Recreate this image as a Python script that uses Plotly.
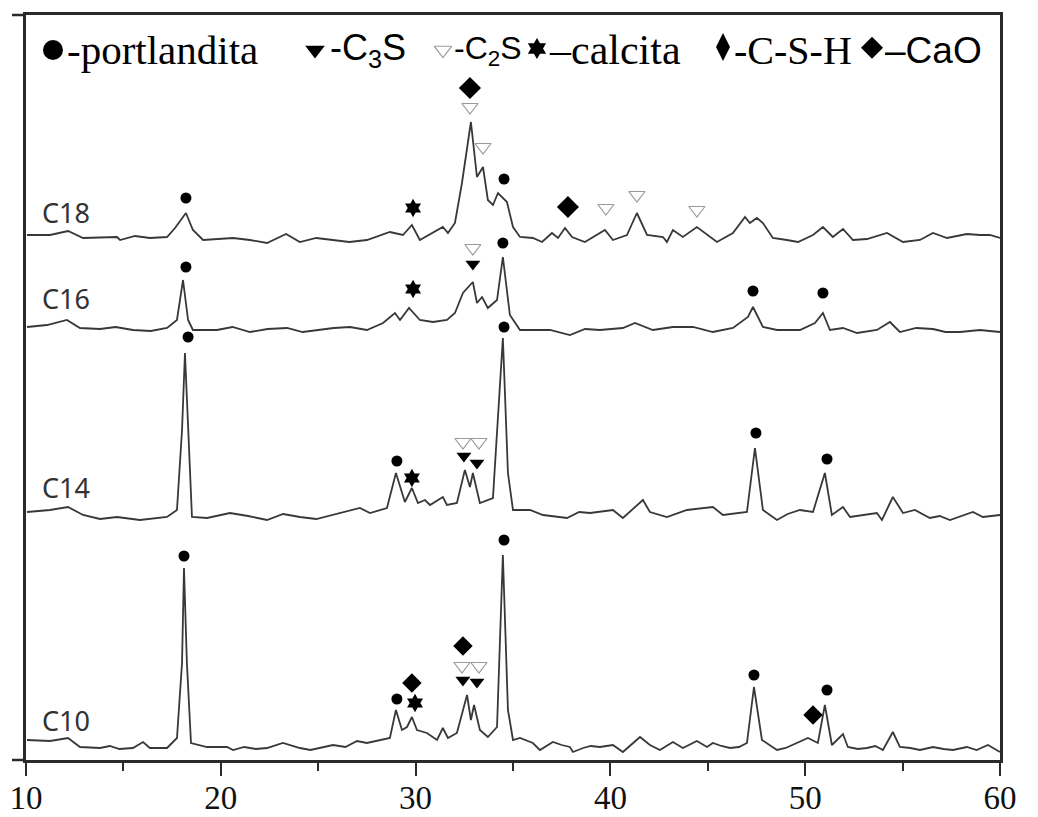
import plotly.graph_objects as go

# ---------------- data (2θ in degrees, stacked intensity in a.u.) ----------------
c10_x = [10.05, 11.23, 12.16, 12.77, 13.80, 14.30, 14.80, 15.49, 16.01, 16.36, 17.24, 17.75, 18.01, 18.11, 18.26, 18.47, 19.29, 20.32, 20.63, 21.20, 21.80, 22.37, 23.19, 24.06, 24.60, 25.09, 25.76, 26.40, 26.99, 27.50, 28.02, 28.68, 28.99, 29.30, 29.56, 29.81, 30.07, 30.58, 31.10, 31.40, 31.66, 32.12, 32.64, 32.84, 33.00, 33.30, 33.71, 34.18, 34.48, 34.74, 35.00, 35.36, 36.02, 36.38, 37.05, 37.50, 37.92, 38.08, 38.60, 39.00, 39.46, 40.13, 40.64, 41.52, 42.03, 42.54, 43.21, 43.72, 44.44, 44.96, 45.26, 45.70, 46.14, 46.60, 47.01, 47.37, 47.78, 48.55, 49.00, 49.37, 50.14, 50.65, 51.01, 51.37, 51.94, 52.19, 52.70, 53.17, 53.60, 53.99, 54.50, 54.86, 55.40, 55.89, 56.56, 57.10, 57.58, 58.30, 58.80, 59.38, 60.00]
c10_y = [20, 19, 22, 13, 12, 14, 11, 12, 18, 12, 12, 22, 97, 192, 97, 17, 13, 13, 10, 13, 11, 12, 17, 12, 10, 12, 15, 13, 19, 17, 19, 22, 50, 30, 33, 43, 30, 27, 20, 32, 22, 27, 65, 40, 55, 30, 23, 33, 205, 50, 20, 22, 17, 10, 18, 15, 13, 8, 12, 14, 13, 15, 8, 23, 15, 10, 18, 12, 19, 13, 17, 14, 12, 13, 17, 73, 20, 10, 12, 15, 22, 17, 55, 15, 26, 13, 11, 12, 14, 10, 28, 13, 12, 10, 13, 11, 10, 13, 10, 15, 8]

c14_x = [10.05, 11.23, 12.16, 12.93, 13.80, 14.67, 15.85, 17.24, 17.75, 18.01, 18.16, 18.32, 18.52, 19.29, 20.47, 21.40, 22.37, 23.20, 24.06, 24.90, 25.76, 26.40, 27.14, 27.66, 28.53, 28.99, 29.45, 29.81, 30.12, 30.48, 30.74, 31.40, 31.61, 32.12, 32.53, 32.79, 32.94, 33.30, 33.97, 34.48, 34.74, 35.00, 35.87, 36.54, 37.77, 38.40, 38.95, 40.13, 40.64, 41.67, 42.03, 42.90, 43.93, 45.26, 45.78, 47.01, 47.42, 47.83, 48.55, 49.10, 49.73, 50.40, 51.01, 51.37, 51.94, 52.30, 53.68, 53.94, 54.50, 55.02, 55.63, 56.40, 56.90, 57.43, 58.61, 59.12, 60.00]
c14_y = [248, 250, 253, 245, 241, 243, 240, 243, 250, 330, 407, 330, 243, 242, 247, 244, 240, 246, 243, 241, 245, 248, 252, 247, 252, 287, 258, 272, 257, 260, 255, 263, 255, 257, 290, 273, 287, 257, 262, 422, 287, 250, 250, 245, 242, 248, 247, 250, 242, 260, 248, 243, 250, 253, 245, 248, 312, 250, 240, 246, 250, 248, 287, 245, 253, 243, 247, 240, 263, 247, 250, 242, 244, 240, 248, 243, 245]

c16_x = [10.05, 11.08, 12.10, 12.77, 13.80, 14.60, 15.49, 16.40, 17.24, 17.75, 18.06, 18.32, 18.57, 19.80, 20.60, 21.50, 22.40, 23.40, 24.20, 24.94, 25.80, 26.63, 27.50, 28.33, 28.94, 29.20, 29.66, 30.22, 30.89, 31.61, 32.02, 32.43, 32.94, 33.15, 33.41, 33.71, 34.18, 34.48, 34.84, 35.36, 36.90, 37.92, 38.70, 39.46, 40.64, 41.26, 42.18, 43.21, 44.24, 45.26, 46.29, 47.06, 47.32, 47.83, 48.55, 49.73, 50.50, 50.91, 51.27, 51.94, 52.66, 53.68, 54.35, 54.86, 55.70, 56.56, 57.20, 57.94, 58.97, 60.00]
c16_y = [433, 435, 440, 432, 431, 433, 430, 429, 432, 440, 480, 440, 430, 430, 433, 428, 431, 432, 428, 430, 432, 433, 430, 437, 447, 440, 452, 440, 438, 440, 447, 467, 478, 457, 463, 452, 460, 503, 445, 430, 430, 425, 431, 430, 432, 437, 430, 433, 433, 428, 432, 443, 453, 433, 430, 430, 437, 447, 430, 432, 427, 430, 438, 428, 432, 431, 428, 428, 430, 428]

c18_x = [10.05, 11.23, 12.16, 12.93, 14.67, 14.83, 15.60, 16.36, 17.24, 17.65, 18.21, 18.57, 19.09, 20.63, 21.50, 22.37, 23.35, 24.06, 24.90, 25.76, 26.60, 27.50, 28.68, 29.35, 29.81, 30.22, 30.89, 31.40, 31.66, 32.02, 32.38, 32.84, 33.15, 33.46, 33.71, 33.97, 34.23, 34.69, 35.00, 35.36, 36.02, 36.49, 37.00, 37.31, 37.67, 38.03, 38.69, 39.72, 40.13, 40.85, 41.36, 41.88, 42.70, 42.90, 43.21, 43.72, 44.44, 45.47, 46.29, 46.91, 47.16, 47.52, 47.83, 48.34, 49.06, 49.63, 50.40, 50.91, 51.42, 51.94, 52.45, 53.17, 54.20, 55.02, 55.89, 56.56, 57.28, 58.30, 58.97, 59.48, 60.00]
c18_y = [525, 525, 529, 522, 523, 520, 524, 522, 523, 532, 547, 530, 520, 522, 520, 517, 526, 518, 522, 520, 518, 520, 528, 525, 535, 520, 527, 533, 527, 537, 577, 638, 583, 593, 560, 555, 567, 558, 533, 523, 522, 518, 527, 522, 532, 523, 518, 530, 520, 525, 547, 525, 523, 518, 530, 523, 533, 518, 527, 543, 537, 542, 537, 522, 520, 518, 525, 533, 523, 531, 520, 521, 527, 518, 520, 527, 522, 526, 525, 525, 522]

samples = ["C10", "C14", "C16", "C18"]
sample_label_y = [40, 273, 462, 548]   # vertical position of the sample names (a.u.)

# phase identification marks (2θ, a.u.)
portl_x = [18.21, 34.54, 18.21, 34.48, 47.32, 50.91, 18.32, 29.04, 34.54, 47.47, 51.12, 18.11, 29.04, 34.54, 47.37, 51.12]
portl_y = [562, 581, 493, 517, 469, 467, 423, 299, 433, 327, 301, 204, 61, 220, 85, 70]
c3s_x = [32.94, 32.48, 33.15, 32.43, 33.15]
c3s_y = [496, 304, 297, 80, 78]
c2s_x = [32.79, 33.46, 39.77, 41.36, 44.44, 32.94, 32.43, 33.25, 32.38, 33.25]
c2s_y = [653, 613, 552, 565, 550, 512, 318, 318, 94, 94]
calc_x = [29.87, 29.87, 29.81, 29.97]
calc_y = [552, 471, 282, 57]
csh_x = [29.81, 32.43, 50.40]
csh_y = [77, 114, 45]
cao_x = [32.79, 37.82]
cao_y = [672, 553]

x_ticks = [10, 20, 30, 40, 50, 60]

# legend row: phase names
legend_names = ["-portlandita", "-C<sub>3</sub>S", "-C<sub>2</sub>S", "–calcita", "-C-S-H", "–CaO"]

series = [(c10_x, c10_y), (c14_x, c14_y), (c16_x, c16_y), (c18_x, c18_y)]
for xs, ys in series:
    assert len(xs) == len(ys), (len(xs), len(ys))

# ---------------- figure ----------------
fig = go.Figure()
line_style = dict(color="#383838", width=1.8)
for xs, ys in series:
    fig.add_trace(go.Scatter(x=xs, y=ys, mode="lines", line=line_style,
                             showlegend=False, hoverinfo="skip"))

phase_styles = [  # symbol, size in plot, size in legend row, colour, outline width
    ("circle", 11, 20, "black", 0),
    ("triangle-down", 13, 17, "black", 0),
    ("triangle-down-open", 14, 15, "#9a9a9a", 1.2),
    ("hexagram", 14, 16, "black", 0),
    ("diamond", 15, 20, "black", 0),
    ("diamond", 17, 17, "black", 0),
]
phase_marks = [(portl_x, portl_y), (c3s_x, c3s_y), (c2s_x, c2s_y),
               (calc_x, calc_y), (csh_x, csh_y), (cao_x, cao_y)]

for (xs, ys), (sym, size, _, col, lw) in zip(phase_marks, phase_styles):
    fig.add_trace(go.Scatter(
        x=xs, y=ys, mode="markers", showlegend=False, hoverinfo="skip",
        marker=dict(symbol=sym, size=size, color=col, line=dict(color=col, width=lw))))

# legend-row glyphs on a hidden overlay axis in plot-fraction units
glyph_x = [0.0277, 0.2967, 0.4281, 0.5246, 0.7156, 0.8686]
glyph_y = [0.953, 0.953, 0.953, 0.955, 0.957, 0.956]
for gx, gy, (sym, _, lsize, col, lw) in zip(glyph_x, glyph_y, phase_styles):
    if sym == "diamond" and lsize == 20:
        sym = "diamond-tall"
    fig.add_trace(go.Scatter(
        x=[gx], y=[gy], xaxis="x2", yaxis="y2", mode="markers", showlegend=False,
        hoverinfo="skip",
        marker=dict(symbol=sym, size=lsize, color=col, line=dict(color=col, width=lw))))

text_x = [0.0400, 0.3100, 0.4370, 0.5350, 0.7250, 0.8800]
text_font = ["Liberation Serif", "Liberation Sans", "Liberation Sans",
             "Liberation Serif", "Liberation Serif", "Liberation Sans"]
text_size = [41, 36, 32, 42, 40, 37]
for tx, name, fam, sz in zip(text_x, legend_names, text_font, text_size):
    fig.add_annotation(x=tx, y=0.953, xref="paper", yref="paper", text=name,
                       showarrow=False, xanchor="left", yanchor="middle",
                       font=dict(family=fam, size=sz, color="black"))

# sample labels
for name, yv in zip(samples, sample_label_y):
    fig.add_annotation(x=10.7, y=yv, xref="x", yref="y", text=name, showarrow=False,
                       xanchor="left", yanchor="middle",
                       font=dict(family="Noto Sans", size=27, color="#333"))

# small overhang of the horizontal frame lines to the left
for yp in (0, 1):
    fig.add_shape(type="line", xref="paper", yref="paper", x0=-0.0144, x1=0,
                  y0=yp, y1=yp, line=dict(color="#2a2a2a", width=2.5))

SERIF = "Times New Roman, Liberation Serif, serif"
fig.update_layout(
    width=1038, height=817, autosize=False,
    margin=dict(l=26, r=38, t=15, b=57),
    paper_bgcolor="white", plot_bgcolor="white",
    font=dict(family=SERIF, color="#111"),
    xaxis=dict(range=[10, 60], tickvals=x_ticks, ticks="outside", ticklen=13,
               tickwidth=2, tickcolor="#2a2a2a", showline=True, linecolor="#2a2a2a",
               linewidth=2.5, mirror=True, showgrid=False, zeroline=False,
               automargin=False, ticklabelstandoff=-6,
               tickfont=dict(family=SERIF, size=33, color="#111"),
               minor=dict(dtick=5, tick0=10, ticks="outside", ticklen=8,
                          tickwidth=2, tickcolor="#2a2a2a", showgrid=False)),
    yaxis=dict(range=[0, 745], showticklabels=False, ticks="", showline=True,
               linecolor="#2a2a2a", linewidth=2.5, mirror=True, showgrid=False,
               zeroline=False, automargin=False),
    xaxis2=dict(overlaying="x", range=[0, 1], visible=False, fixedrange=True),
    yaxis2=dict(overlaying="y", range=[0, 1], visible=False, fixedrange=True),
)

fig.write_html("out.html")
